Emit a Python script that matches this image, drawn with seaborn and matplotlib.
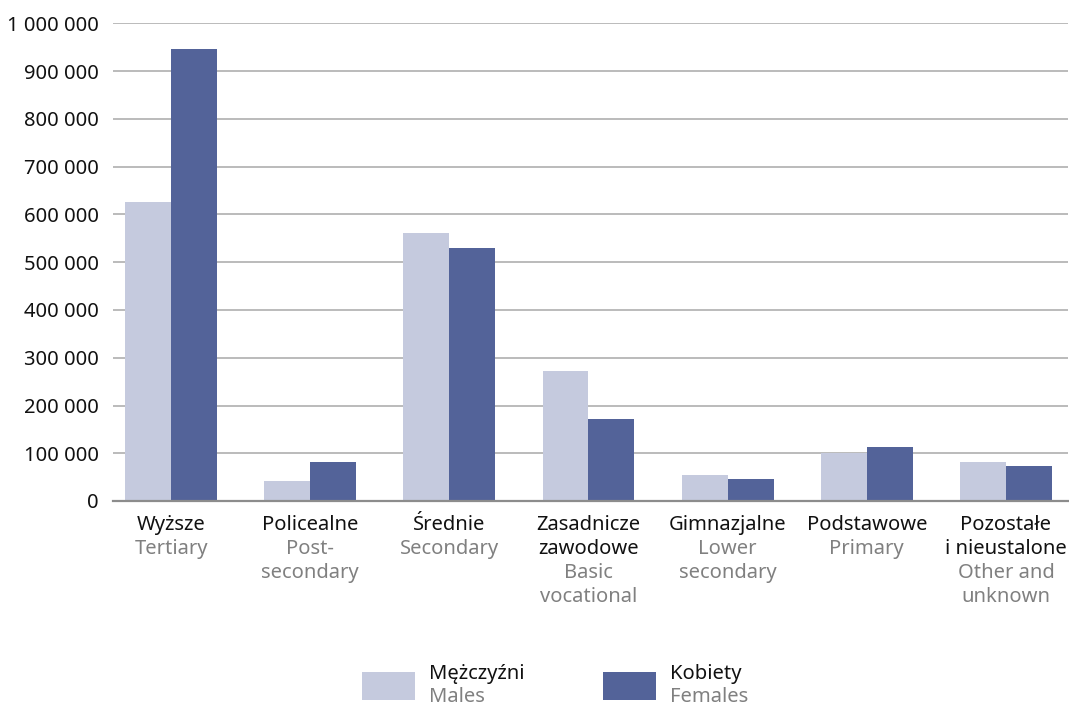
import matplotlib
matplotlib.use("Agg")
import matplotlib.pyplot as plt
from matplotlib.patches import Rectangle
from matplotlib.ticker import FuncFormatter, MultipleLocator
import pandas as pd
import seaborn as sns

# Education level: Polish name / English name
categories_pl = ["Wyższe", "Policealne", "Średnie", "Zasadnicze\nzawodowe",
                 "Gimnazjalne", "Podstawowe", "Pozostałe\ni nieustalone"]
categories_en = ["Tertiary", "Post-\nsecondary", "Secondary", "Basic\nvocational",
                 "Lower\nsecondary", "Primary", "Other and\nunknown"]

males = [626000, 42000, 561000, 272000, 54000, 100000, 82000]
females = [946000, 82000, 530000, 172000, 46000, 113000, 73000]

series_pl = ["Mężczyźni", "Kobiety"]
series_en = ["Males", "Females"]
colors = ["#C5CADE", "#536399"]

df = pd.DataFrame({
    "cat": categories_pl * 2,
    "value": males + females,
    "sex": [series_pl[0]] * len(males) + [series_pl[1]] * len(females),
})

sns.set_theme(style="white")
plt.rcParams["font.family"] = ["Noto Sans", "DejaVu Sans"]

FS = 14.5
BLACK = "#111111"
GREY = "#808080"
LINE_PT = 17.3  # spacing between label lines, in points

fig = plt.figure(figsize=(10.69, 7.06), dpi=100)
ax = fig.add_axes([113 / 1069, 205 / 706, 955 / 1069, 477.5 / 706])

sns.barplot(data=df, x="cat", y="value", hue="sex", palette=colors,
            width=0.66, saturation=1, legend=False, ax=ax, zorder=3,
            linewidth=0, edgecolor="none")

ax.set_ylim(0, 1_000_000)
ax.set_xlim(-0.417, 6.446)
ax.yaxis.set_major_locator(MultipleLocator(100_000))
ax.yaxis.set_major_formatter(FuncFormatter(lambda v, _: f"{int(v):,}".replace(",", " ")))
ax.grid(axis="y", color="#A8A8A8", linewidth=1.1, zorder=0)
ax.grid(axis="x", visible=False)
for side in ["top", "right", "left"]:
    ax.spines[side].set_visible(False)
ax.spines["bottom"].set_color("#8C8C8C")
ax.spines["bottom"].set_linewidth(1.6)
ax.spines["bottom"].set_zorder(4)
ax.tick_params(axis="y", length=0, labelsize=FS, labelcolor=BLACK, pad=10)
ax.tick_params(axis="x", length=0)
ax.set_xticks(range(len(categories_pl)))
ax.set_xticklabels([])
ax.set_xlabel("")
ax.set_ylabel("")

# Two-colour category labels below the axis, one line at a time
for i, (pl, en) in enumerate(zip(categories_pl, categories_en)):
    lines = [(t, BLACK) for t in pl.split("\n")] + [(t, GREY) for t in en.split("\n")]
    for k, (txt, col) in enumerate(lines):
        ax.annotate(txt, xy=(i, 0), xycoords=("data", "axes fraction"),
                    xytext=(0, -10 - LINE_PT * k), textcoords="offset points",
                    ha="center", va="top", fontsize=FS, color=col)

# Legend built from the series colours
W, H = 1069, 706
patch_x = [362, 603]
for x0, c, pl, en in zip(patch_x, colors, series_pl, series_en):
    fig.add_artist(Rectangle((x0 / W, (H - 700) / H), 53 / W, 28 / H,
                             transform=fig.transFigure, facecolor=c,
                             edgecolor="none"))
    fig.text((x0 + 67) / W, (H - 664) / H, pl, ha="left", va="top",
             fontsize=FS, color=BLACK)
    fig.text((x0 + 67) / W, (H - 687) / H, en, ha="left", va="top",
             fontsize=FS, color=GREY)

fig.savefig("out.png", dpi=100, facecolor="white")
